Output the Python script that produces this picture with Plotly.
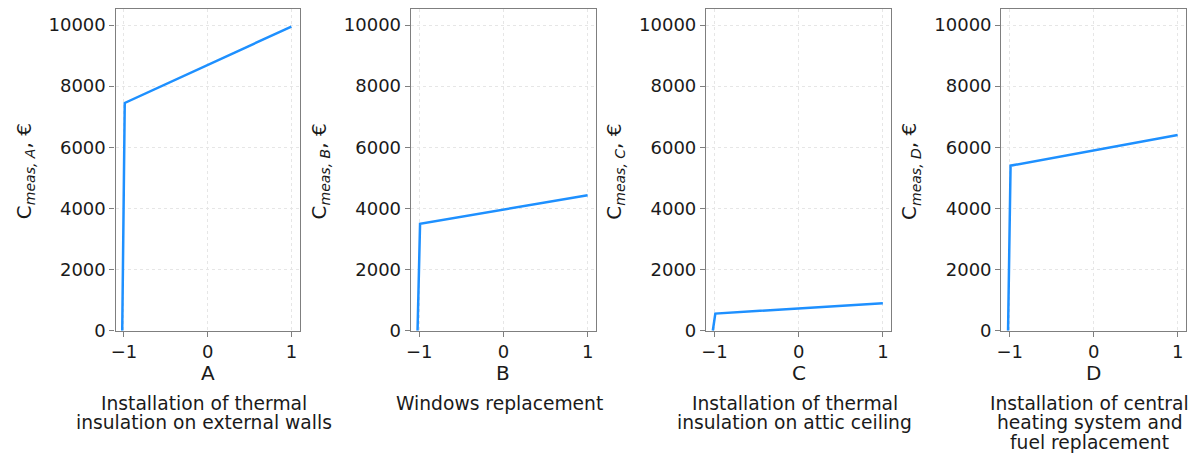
import plotly.graph_objects as go

W, H = 1199, 466

panels = ["A", "B", "C", "D"]
captions = [
    ["Installation of thermal", "insulation on external walls"],
    ["Windows replacement"],
    ["Installation of thermal", "insulation on attic ceiling"],
    ["Installation of central", "heating system and", "fuel replacement"],
]
x_vals = [-1.02, -0.99, 1.0]
cost_A = [0, 7450, 9950]
cost_B = [0, 3500, 4430]
cost_C = [0, 560, 900]
cost_D = [0, 5400, 6400]
costs = [cost_A, cost_B, cost_C, cost_D]
y_ticks = [0, 2000, 4000, 6000, 8000, 10000]
x_ticks = [-1, 0, 1]

# pixel boxes of plot areas
px_left = [111, 407.5, 704, 1000.5]
px_right = [296, 593.5, 890, 1186]
px_top, px_bottom = 9, 338

fig = go.Figure()
spine = "#7f7f7f"
font_main = "DejaVu Sans"
txt = "#1a1a1a"

for i, p in enumerate(panels):
    xa = "x" if i == 0 else f"x{i+1}"
    ya = "y" if i == 0 else f"y{i+1}"
    fig.add_trace(go.Scatter(x=x_vals, y=costs[i], mode="lines",
                             line=dict(color="#1e90ff", width=2.5),
                             xaxis=xa, yaxis=ya, showlegend=False))
    dom_x = [px_left[i] / W, px_right[i] / W]
    dom_y = [1 - px_bottom / H, 1 - px_top / H]
    common = dict(showline=True, linecolor=spine, linewidth=1.3, mirror=True,
                  ticks="outside", ticklen=5, tickcolor=spine, tickwidth=1.2,
                  showgrid=True, gridcolor="#e6e6e6", griddash="dot", gridwidth=1,
                  zeroline=False,
                  tickfont=dict(family=font_main, size=18, color=txt))
    xkey = "xaxis" if i == 0 else f"xaxis{i+1}"
    ykey = "yaxis" if i == 0 else f"yaxis{i+1}"
    fig.update_layout(**{
        xkey: dict(domain=dom_x, range=[-1.1, 1.1], tickvals=x_ticks,
                   ticktext=["\u22121", "0", "1"], anchor=ya, **common),
        ykey: dict(domain=dom_y, range=[0, 10530], tickvals=y_ticks,
                   tickformat="d", anchor=xa, **common),
    })
    cx = (px_left[i] + px_right[i]) / 2
    # x axis title
    fig.add_annotation(x=cx / W, y=1 - 381 / H, xref="paper", yref="paper",
                       xanchor="center", yanchor="middle",
                       text=p, showarrow=False,
                       font=dict(family=font_main, size=20, color=txt))
    # y axis title
    fig.add_annotation(x=(px_left[i] - 91) / W, y=1 - 175 / H, xref="paper", yref="paper",
                       xanchor="center", yanchor="middle",
                       text=f"C<sub><i>meas, {p}</i></sub>, \u20ac", textangle=-90,
                       showarrow=False,
                       font=dict(family=font_main, size=20, color=txt))
    # caption, one annotation per line for tight spacing
    for j, line in enumerate(captions[i]):
        fig.add_annotation(x=(cx - 4) / W, y=1 - (412 + 20 * j) / H,
                           xref="paper", yref="paper",
                           xanchor="center", yanchor="middle",
                           text=line, showarrow=False,
                           font=dict(family=font_main, size=18.7, color=txt))

fig.update_layout(width=W, height=H, margin=dict(l=0, r=0, t=0, b=0),
                  paper_bgcolor="white", plot_bgcolor="white")
fig.write_html("out.html")
